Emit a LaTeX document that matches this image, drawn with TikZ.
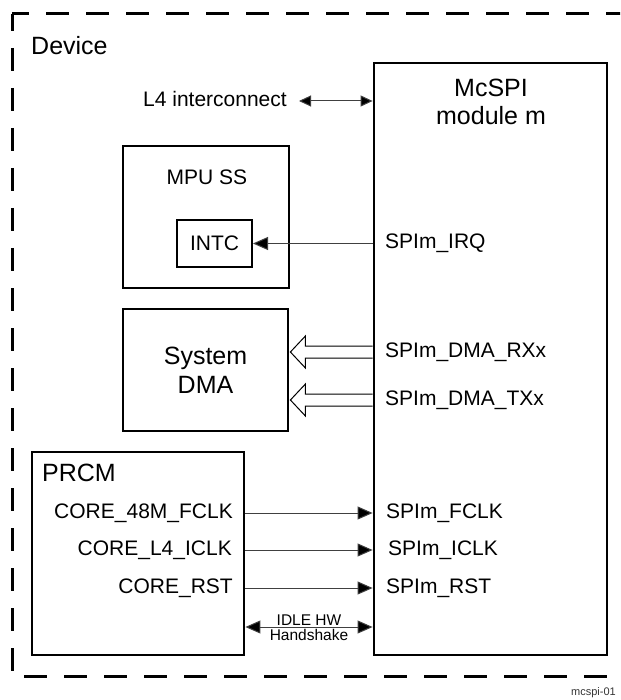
\documentclass[tikz,border=0pt]{standalone}
\usepackage{fontspec}
\setmainfont{Liberation Sans}
\usepackage{tikz}
\usetikzlibrary{positioning,arrows.meta,calc}

\begin{document}
\begin{tikzpicture}[
    x=1pt, y=-1pt,
    blk/.style={draw, line width=2.8pt, inner sep=0pt},
    title/.style={font=\fontsize{25}{29}\selectfont, align=center, inner sep=0pt},
    lbl/.style={font=\fontsize{21}{24}\selectfont, inner sep=0pt},
    sig/.style={draw=black!75, line width=1pt, -{Triangle[length=15pt,width=13pt,fill=black]}},
    hollow/.style={draw, line width=1pt, fill=white},
    devborder/.style={draw, line width=3pt, dash pattern=on 23pt off 17pt, dash phase=6pt}
  ]
  \clip (0,0) rectangle (620,700);

  % Device frame
  \draw[devborder] (12,14) -- (12,676) -- (660,676);
  \draw[devborder] (12,14) -- (660,14);
  \node[title, anchor=west] (dev) at (31,46) {Device};

  % blocks
  \node[blk, minimum width=233pt, minimum height=592pt] (mcspi) at (490.5,359) {};
  \node[title] (mcspitxt) at (491,102) {McSPI\\[-1pt]module m};
  \node[blk, minimum width=166pt, minimum height=142pt] (mpu) at (206,217) {};
  \node[lbl] (mputxt) at (207,177) {MPU SS};
  \node[blk, line width=2pt, minimum width=75pt, minimum height=47pt, font=\fontsize{21}{24}\selectfont] (intc) at (214.5,243.5) {INTC};
  \node[blk, minimum width=165pt, minimum height=122pt, title] (dma) at (205.5,370) {System\\DMA};
  \node[blk, minimum width=212pt, minimum height=203pt] (prcm) at (138,553.5) {};
  \node[title, anchor=west] (prcmtxt) at (42,473) {PRCM};

  % L4
  \node[lbl, anchor=east] (l4) at (287,99) {L4 interconnect};
  \draw[draw=black!75, line width=1pt, {Triangle[length=12pt,width=11pt,fill=black]}-{Triangle[length=12pt,width=11pt,fill=black]}]
    ([xshift=12pt,yshift=-2pt]l4.east) -- ([yshift=-2pt]l4.east -| mcspi.west);

  % McSPI pins
  \node[lbl, anchor=west] (irq) at (385,243) {SPIm\_IRQ};
  \node[lbl, anchor=west] (rx) at (385,352) {SPIm\_DMA\_RXx};
  \node[lbl, anchor=west] (tx) at (385,400) {SPIm\_DMA\_TXx};
  \node[lbl, anchor=west] (fclk) at (386,513) {SPIm\_FCLK};
  \node[lbl, anchor=west] (iclk) at (388,550) {SPIm\_ICLK};
  \node[lbl, anchor=west] (rst) at (386,588) {SPIm\_RST};

  % PRCM outputs
  \node[lbl, anchor=east] (c48) at (233,513) {CORE\_48M\_FCLK};
  \node[lbl, anchor=east] (cl4) at (232,550) {CORE\_L4\_ICLK};
  \node[lbl, anchor=east] (crst) at (233,588) {CORE\_RST};

  \draw[sig] (intc.east -| mcspi.west) -- (intc.east);
  \draw[sig] (c48 -| prcm.east) -- (c48 -| mcspi.west);
  \draw[sig] (cl4 -| prcm.east) -- (cl4 -| mcspi.west);
  \draw[sig] (crst -| prcm.east) -- (crst -| mcspi.west);

  % DMA requests
  \draw[hollow] ($(rx.west -| mcspi.west)+(0,-6)$) -- ($(rx.west -| dma.east)+(16,-6)$)
    -- ++(0,-10) -- ++(-15,16) -- ++(15,16) -- ++(0,-10) -- ($(rx.west -| mcspi.west)+(0,6)$);
  \draw[hollow] ($(tx.west -| mcspi.west)+(0,-6)$) -- ($(tx.west -| dma.east)+(16,-6)$)
    -- ++(0,-10) -- ++(-15,16) -- ++(15,16) -- ++(0,-10) -- ($(tx.west -| mcspi.west)+(0,6)$);

  % Handshake
  \coordinate (hs) at (310,627);
  \draw[draw=black!75, line width=1pt, {Triangle[length=15pt,width=13pt,fill=black]}-{Triangle[length=15pt,width=13pt,fill=black]}]
    (hs -| prcm.east) -- node[above=1pt, font=\fontsize{15.5}{17}\selectfont, inner sep=0pt] {IDLE HW}
    node[below=2pt, font=\fontsize{15.5}{17}\selectfont, inner sep=0pt] {Handshake} (hs -| mcspi.west);

  \node[anchor=west, font=\fontsize{11}{13}\selectfont, text=black!80, inner sep=0pt] (fig) at (571,693) {mcspi-01};
\end{tikzpicture}
\end{document}
